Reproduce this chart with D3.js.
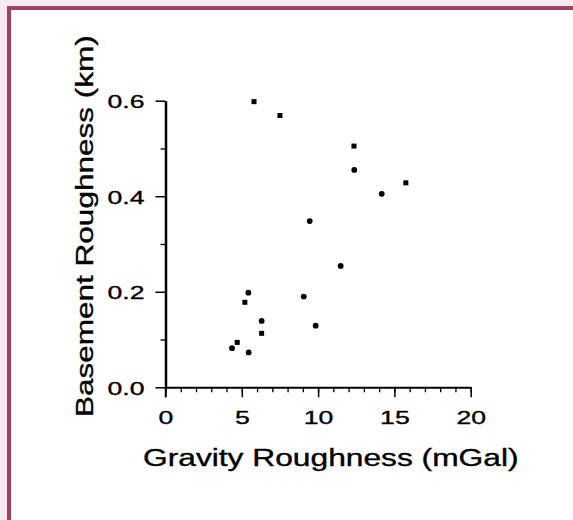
<!DOCTYPE html>
<html lang="en">
<head>
<meta charset="UTF-8">
<title>Basement vs Gravity Roughness</title>
<style>
    body { margin: 0; background: #f6eaf0; }
    svg { display: block; }
    text { font-family: "Liberation Sans", Arial, sans-serif; fill: #000; stroke: #000; stroke-width: 0.35px; }
    .axis path, .axis line { stroke: #000; }
</style>
</head>
<body>
<svg id="chart" width="573" height="520"></svg>
<script src="https://d3js.org/d3.v7.min.js"></script>
<script>
// squares
const squareX = [5.8, 7.5, 12.35, 15.75, 5.2, 6.3, 4.7];
const squareY = [0.598, 0.569, 0.505, 0.428, 0.178, 0.113, 0.094];
// circles
const circleX = [12.37, 14.17, 9.45, 11.48, 5.43, 9.06, 6.3, 9.84, 4.36, 5.45];
const circleY = [0.455, 0.405, 0.348, 0.254, 0.198, 0.19, 0.139, 0.129, 0.082, 0.073];

const xMajor = [0, 5, 10, 15, 20];
const xMinor = d3.range(0, 21, 1);
const yMajor = [0, 0.2, 0.4, 0.6];
const yMinor = [0.1, 0.3, 0.5];

const svg = d3.select('#chart');

// page frame
svg.append('rect').attr('x', 11).attr('y', 10).attr('width', 562).attr('height', 510).attr('fill', '#fff');
svg.append('rect').attr('x', 7).attr('y', 6).attr('width', 4).attr('height', 514).attr('fill', '#a2415f');
svg.append('rect').attr('x', 7).attr('y', 6).attr('width', 566).attr('height', 4).attr('fill', '#a2415f');

const x = d3.scaleLinear().domain([0, 20]).range([165.5, 470.7]);
const y = d3.scaleLinear().domain([0, 0.6]).range([387.3, 100.7]);

const SX = 1.4; // the original type is stretched sideways

// minor ticks
svg.append('g').attr('class', 'axis')
    .attr('transform', `translate(0,${y(0)})`)
    .call(d3.axisBottom(x).tickValues(xMinor).tickSize(5).tickFormat(''))
    .call(g => g.select('.domain').remove())
    .selectAll('line').attr('stroke-width', 1.3);
svg.append('g').attr('class', 'axis')
    .attr('transform', `translate(${x(0)},0)`)
    .call(d3.axisLeft(y).tickValues(yMinor).tickSize(5).tickFormat(''))
    .call(g => g.select('.domain').remove())
    .selectAll('line').attr('stroke-width', 1.3);

// major ticks + labels
const xAxis = svg.append('g').attr('class', 'axis')
    .attr('transform', `translate(0,${y(0)})`)
    .call(d3.axisBottom(x).tickValues(xMajor).tickSizeInner(10).tickSizeOuter(0).tickFormat(d3.format('d')));
xAxis.select('.domain').attr('stroke-width', 2);
xAxis.selectAll('line').attr('stroke-width', 1.5);
xAxis.selectAll('text')
    .attr('font-size', 19)
    .attr('y', 0).attr('dy', '0.71em')
    .attr('transform', `translate(0,23) scale(${SX},1)`);

const yAxis = svg.append('g').attr('class', 'axis')
    .attr('transform', `translate(${x(0)},0)`)
    .call(d3.axisLeft(y).tickValues(yMajor).tickSizeInner(10).tickSizeOuter(0).tickFormat(d3.format('.1f')));
yAxis.select('.domain').attr('stroke-width', 2.5);
yAxis.selectAll('line').attr('stroke-width', 1.5);
yAxis.selectAll('text')
    .attr('font-size', 19)
    .attr('x', 0).attr('dy', '0.36em')
    .attr('transform', `translate(-21,0) scale(${SX},1)`);

// y axis line runs down past the x axis like the 0 tick
svg.append('line')
    .attr('x1', x(0)).attr('x2', x(0))
    .attr('y1', y(0)).attr('y2', y(0) + 10)
    .attr('stroke', '#000').attr('stroke-width', 1.5);

// points
svg.append('g').selectAll('rect')
    .data(squareX.map((d, i) => [d, squareY[i]]))
    .join('rect')
    .attr('x', d => x(d[0]) - 2.5)
    .attr('y', d => y(d[1]) - 2.5)
    .attr('width', 5).attr('height', 5)
    .attr('fill', '#000');

svg.append('g').selectAll('circle')
    .data(circleX.map((d, i) => [d, circleY[i]]))
    .join('circle')
    .attr('cx', d => x(d[0]))
    .attr('cy', d => y(d[1]))
    .attr('r', 2.9)
    .attr('fill', '#000');

// axis titles
svg.append('text')
    .attr('font-size', 23)
    .attr('transform', `translate(143,466) scale(1.38,1)`)
    .text('Gravity Roughness (mGal)');

svg.append('text')
    .attr('font-size', 23)
    .attr('transform', `translate(93,417) rotate(-90) scale(1.37,1)`)
    .text('Basement Roughness (km)');
</script>
</body>
</html>
